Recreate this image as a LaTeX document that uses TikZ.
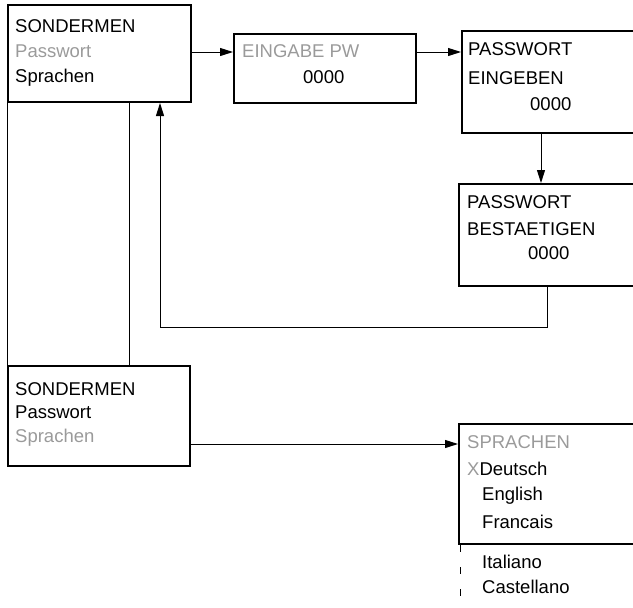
\documentclass[tikz,border=0pt]{standalone}
\usepackage{fontspec}
\setmainfont{Liberation Sans}
\usetikzlibrary{arrows.meta}
\definecolor{lgray}{HTML}{9A9A9A}
\begin{document}
\begin{tikzpicture}[x=1pt,y=-1pt,
  box/.style={draw, line width=2pt, inner sep=0pt, anchor=north west},
  txt/.style={anchor=base west, inner sep=0pt, font=\fontsize{18.5}{20}\selectfont},
  gtxt/.style={txt, text=lgray},
  conn/.style={line width=1pt},
  arr/.style={conn, -{Triangle[length=13pt,width=8pt]}}]
\useasboundingbox (0,0) rectangle (633,608);
\clip (0,0) rectangle (633,608);
% boxes
\node[box, minimum width=183pt, minimum height=97pt] (b1) at (7,4) {};
\node[box, minimum width=182pt, minimum height=69pt] (b2) at (233,33) {};
\node[box, minimum width=200pt, minimum height=102pt] (b3) at (461,30) {};
\node[box, minimum width=200pt, minimum height=102pt] (b4) at (458,183) {};
\node[box, minimum width=182pt, minimum height=100pt] (b5) at (7,365) {};
\node[box, minimum width=200pt, minimum height=120pt] (b6) at (458,423) {};
% texts
\node[txt] (t1a) at (15,32) {SONDERMEN};
\node[gtxt] (t1b) at (15,57) {Passwort};
\node[txt] (t1c) at (15,82) {Sprachen};
\node[gtxt] (t2a) at (242,57) {EINGABE PW};
\node[txt] (t2b) at (303,83) {0000};
\node[txt] (t3a) at (468,55) {PASSWORT};
\node[txt] (t3b) at (468,84) {EINGEBEN};
\node[txt] (t3c) at (530,110) {0000};
\node[txt] (t4a) at (467,208) {PASSWORT};
\node[txt] (t4b) at (467,235) {BESTAETIGEN};
\node[txt] (t4c) at (528,259) {0000};
\node[txt] (t5a) at (15,395) {SONDERMEN};
\node[txt] (t5b) at (15,418) {Passwort};
\node[gtxt] (t5c) at (15,442) {Sprachen};
\node[gtxt] (t6a) at (467,448) {SPRACHEN};
\node[txt] (t6b) at (467,475) {\textcolor{lgray}{X}Deutsch};
\node[txt] (t6c) at (482,500) {English};
\node[txt] (t6d) at (482,528) {Francais};
\node[txt] (t6e) at (482,568) {Italiano};
\node[txt] (t6f) at (482,593) {Castellano};
% helper coordinates
\coordinate (h1) at (0,52);
\coordinate (v1) at (129,0);
\coordinate (v2) at (541,0);
\coordinate (r1) at (547,327);
\coordinate (r2) at (160,327);
\coordinate (h5) at (0,444);
\coordinate (d1) at (460,608);
% connectors
\draw[arr] (b1.east |- h1) -- (b2.west |- h1);
\draw[arr] (b2.east |- h1) -- (b3.west |- h1);
\draw[arr] (b3.south -| v2) -- (b4.north -| v2);
\draw[arr] (b4.south -| r1) -- (r1) -- (r2) -- (r2 |- b1.south);
\draw[conn] (b1.south west) -- (b5.north west);
\draw[conn] (b1.south -| v1) -- (b5.north -| v1);
\draw[arr] (b5.east |- h5) -- (b6.west |- h5);
\draw[conn, dash pattern=on 7pt off 15pt] (b6.south west -| d1) -- (d1);
\end{tikzpicture}
\end{document}
